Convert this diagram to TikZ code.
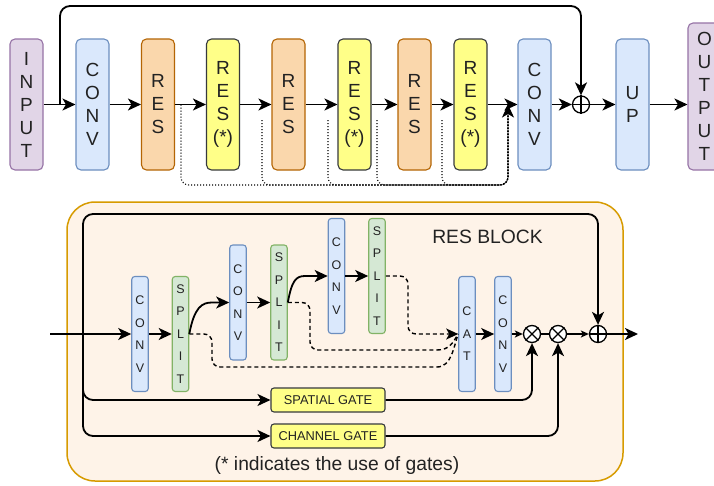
\documentclass[tikz,border=0pt]{standalone}
\usepackage{fontspec}
\setmainfont{Liberation Sans}
\usetikzlibrary{arrows.meta}
\definecolor{purfill}{HTML}{E1D5E7}
\definecolor{purdraw}{HTML}{9673A6}
\definecolor{bluefill}{HTML}{DAE8FC}
\definecolor{bluedraw}{HTML}{6C8EBF}
\definecolor{orfill}{HTML}{FAD7AC}
\definecolor{ordraw}{HTML}{B46504}
\definecolor{yelfill}{HTML}{FFFF88}
\definecolor{yeldraw}{HTML}{36393D}
\definecolor{grfill}{HTML}{D5E8D4}
\definecolor{grdraw}{HTML}{82B366}
\definecolor{bgfill}{HTML}{FEF3E8}
\definecolor{bgdraw}{HTML}{D79B00}
\definecolor{txt}{HTML}{222222}
\tikzset{
  bigbox/.style={rounded corners=5pt, minimum width=33pt, minimum height=131pt, inner sep=0pt, line width=1.1pt, font=\fontsize{19}{23}\selectfont, align=center, text=txt},
  inbox/.style={bigbox, fill=purfill, draw=purdraw},
  convbox/.style={bigbox, fill=bluefill, draw=bluedraw},
  resbox/.style={bigbox, fill=orfill, draw=ordraw},
  gresbox/.style={bigbox, fill=yelfill, draw=yeldraw},
  smallbox/.style={rounded corners=3pt, minimum width=16.5pt, minimum height=115pt, inner sep=0pt, line width=1.1pt, font=\fontsize{12.5}{22.5}\selectfont, align=center, text=txt},
  sconv/.style={smallbox, fill=bluefill, draw=bluedraw},
  ssplit/.style={smallbox, fill=grfill, draw=grdraw},
  gatebox/.style={rounded corners=3pt, minimum width=114pt, minimum height=24pt, inner sep=0pt, line width=1.1pt, fill=yelfill, draw=yeldraw, font=\fontsize{12.8}{14}\selectfont, text=txt},
  sumc/.style={circle, draw=black, fill=white, minimum size=17pt, inner sep=0pt, line width=1.3pt},
  arr/.style={line width=1.8pt, -{Stealth[length=13pt,width=12pt,inset=3.5pt]}},
  sarr/.style={line width=1.8pt, -{Stealth[length=8pt,width=7pt,inset=2pt]}},
  dotline/.style={line width=1.1pt, dash pattern=on 1pt off 2pt},
  dashline/.style={line width=1.4pt, dash pattern=on 4pt off 3pt},
  blockbox/.style={rounded corners=28pt, fill=bgfill, draw=bgdraw, line width=1.5pt, inner sep=0pt}
}
\begin{document}
\begin{tikzpicture}[x=1pt,y=-1pt]
\useasboundingbox (0,0) rectangle (714,485);
\fill[white] (0,0) rectangle (714,485);
% ---------- top row ----------
\node[inbox] (input) at (26.5,104.5) {I\\N\\P\\U\\T};
\node[convbox] (conv1) at (92.5,104.5) {C\\O\\N\\V};
\node[resbox] (res1) at (158,104.5) {R\\E\\S};
\node[gresbox] (gres1) at (223,104.5) {R\\E\\S\\(*)};
\node[resbox] (res2) at (288.5,104.5) {R\\E\\S};
\node[gresbox] (gres2) at (354.5,104.5) {R\\E\\S\\(*)};
\node[resbox] (res3) at (414.5,104.5) {R\\E\\S};
\node[gresbox] (gres3) at (470.5,104.5) {R\\E\\S\\(*)};
\node[convbox] (conv2) at (534.5,104.5) {C\\O\\N\\V};
\node[sumc] (plus) at (581,104.5) {};
\draw[line width=1.3pt] (plus.north) -- (plus.south) (plus.west) -- (plus.east);
\node[convbox] (up) at (632.5,104.5) {U\\P};
\node[inbox, minimum height=147pt] (output) at (704.5,96.5) {O\\U\\T\\P\\U\\T};

% dotted skip lines
\coordinate (d1) at (181,104.5);
\coordinate (d2) at (262,120);
\coordinate (d3) at (328,120);
\coordinate (d4) at (377,120);
\coordinate (d5) at (442,120);
\coordinate (jb) at (508,185);
\coordinate (j) at (508,104.5);
\foreach \d in {d1,d2,d3,d4}{
  \draw[dotline, rounded corners=8pt] (\d) |- (jb) -- (j);
}
\draw[dotline, rounded corners=8pt, -{Stealth[length=13pt,width=12pt,inset=3.5pt]}] (d5) |- (jb) -- (j);

\draw[arr] (input) -- (conv1);
\draw[arr] (conv1) -- (res1);
\draw[arr] (res1) -- (gres1);
\draw[arr] (gres1) -- (res2);
\draw[arr] (res2) -- (gres2);
\draw[arr] (gres2) -- (res3);
\draw[arr] (res3) -- (gres3);
\draw[arr] (gres3) -- (conv2);
\draw[arr] (conv2) -- (plus);
\draw[arr] (plus) -- (up);
\draw[arr] (up) -- (output.west |- up);
\coordinate (ts) at (60,104.5);
\coordinate (tt) at (60,6);
\draw[arr, rounded corners=10pt] (ts) -- (tt) -| (plus.north);

% ---------- RES block ----------
\node[blockbox, minimum width=556pt, minimum height=279pt] (block) at (345,341.5) {};
\node[font=\fontsize{19.3}{22}\selectfont, text=txt] (title) at (487.5,236.5) {RES BLOCK};
\node[font=\fontsize{19.3}{22}\selectfont, text=txt] (note) at (337,466) {(* indicates the use of gates)};

\node[sconv] (ca) at (140,334) {C\\O\\N\\V};
\node[ssplit] (sa) at (180.5,334) {S\\P\\L\\I\\T};
\node[sconv] (cb) at (238,302.5) {C\\O\\N\\V};
\node[ssplit] (sb) at (279,302.5) {S\\P\\L\\I\\T};
\node[sconv] (cc) at (336.5,276) {C\\O\\N\\V};
\node[ssplit] (sc) at (377,276) {S\\P\\L\\I\\T};
\node[sconv] (cat) at (467,334) {C\\A\\T};
\node[sconv] (cd) at (503,334) {C\\O\\N\\V};
\node[sumc] (ot1) at (532,334) {};
\draw[line width=1.3pt] (ot1.north east) -- (ot1.south west) (ot1.north west) -- (ot1.south east);
\node[sumc] (ot2) at (558,334) {};
\draw[line width=1.3pt] (ot2.north east) -- (ot2.south west) (ot2.north west) -- (ot2.south east);
\node[sumc] (op) at (598,334) {};
\draw[line width=1.3pt] (op.north) -- (op.south) (op.west) -- (op.east);
\node[gatebox] (sg) at (328,400) {SPATIAL GATE};
\node[gatebox] (cg) at (328,436) {CHANNEL GATE};

\coordinate (inb) at (50,334);
\coordinate (br) at (83,334);
\coordinate (tr) at (83,214);
\coordinate (outb) at (638,334);
\coordinate (k1) at (212,302.5);
\coordinate (k2) at (305,276);

% dashed lines to CAT
\coordinate (a1) at (212,334);
\coordinate (a2) at (212,367);
\coordinate (a3) at (437,367);
\coordinate (b1) at (310,302.5);
\coordinate (b2) at (310,350);
\coordinate (b3) at (437,350);
\coordinate (c1) at (408,276);
\coordinate (cend) at (cat.west);
\draw[dashline, rounded corners=8pt] (sa.east) -- (a1) -- (a2) -- (a3);
\draw[dashline] (a3) .. controls (452,367) and (454,345) .. (cend);
\draw[dashline, rounded corners=8pt] (sb.east) -- (b1) -- (b2) -- (b3);
\draw[dashline] (b3) .. controls (450,350) and (453,342) .. (cend);
\draw[dashline, rounded corners=8pt, -{Stealth[length=12pt,width=11pt,inset=3pt]}] (sc.east) -- (c1) |- (cend);

% solid flow
\draw[arr] (inb) -- (ca);
\draw[arr] (ca) -- (sa);
\draw[arr] (sa.east) .. controls +(5,-27) and +(-10,0) .. (k1) -- (cb.west);
\draw[arr] (cb) -- (sb);
\draw[arr] (sb.east) .. controls +(4,-22) and +(-9,0) .. (k2) -- (cc.west);
\draw[arr] (cc) -- (sc);
\draw[arr] (cat) -- (cd);
\draw[sarr] (cd) -- (ot1);
\draw[line width=1.8pt] (ot1) -- (ot2);
\draw[sarr] (ot2) -- (op);
\draw[arr] (op) -- (outb);
\draw[arr, rounded corners=10pt] (br) -- (tr) -| (op.north);
\draw[arr, rounded corners=10pt] (br) |- (sg.west);
\draw[arr, rounded corners=10pt] (br) |- (cg.west);
\draw[arr, rounded corners=10pt] (sg.east) -| (ot1.south);
\draw[arr, rounded corners=10pt] (cg.east) -| (ot2.south);
\end{tikzpicture}
\end{document}
